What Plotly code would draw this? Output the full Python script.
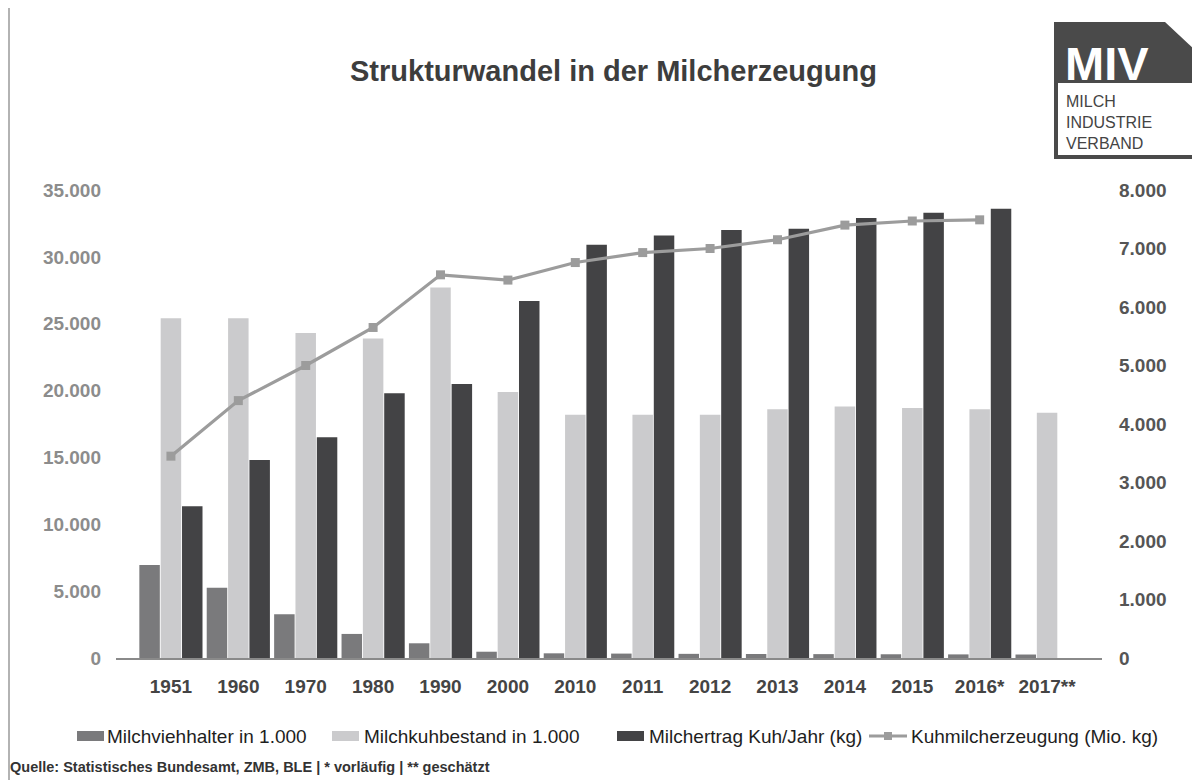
import plotly.graph_objects as go

categories = ["1951", "1960", "1970", "1980", "1990", "2000", "2010", "2011",
              "2012", "2013", "2014", "2015", "2016*", "2017**"]
milchviehhalter = [6950, 5250, 3270, 1800, 1100, 470, 350, 330, 310, 300, 290, 280, 270, 260]
milchkuhbestand = [25400, 25400, 24300, 23900, 27700, 19900, 18200, 18200, 18200,
                   18600, 18800, 18700, 18600, 18350]
milchertrag = [11350, 14800, 16500, 19800, 20500, 26700, 30900, 31600, 32000,
               32100, 32900, 33300, 33600, None]
kuhmilch = [3450, 4400, 5000, 5650, 6550, 6460, 6760, 6930, 7000, 7150, 7400,
            7470, 7490, None]

left_ticks = [0, 5000, 10000, 15000, 20000, 25000, 30000, 35000]
left_labels = ["0", "5.000", "10.000", "15.000", "20.000", "25.000", "30.000", "35.000"]
right_ticks = [0, 1000, 2000, 3000, 4000, 5000, 6000, 7000, 8000]
right_labels = ["0", "1.000", "2.000", "3.000", "4.000", "5.000", "6.000", "7.000", "8.000"]

names = ["Milchviehhalter in 1.000", "Milchkuhbestand in 1.000",
         "Milchertrag Kuh/Jahr (kg)", "Kuhmilcherzeugung (Mio. kg)"]

C1, C2, C3, CL = "#7a7a7c", "#cbcbcd", "#434345", "#9c9c9c"
FONT = "Liberation Sans, Arial, sans-serif"

# page offset caused by the default body margin of the html page
OFF = 8
W, H = 1200 - OFF, 780 - OFF
# plot area in page pixels
L, R, T, B = 116, 1102, 190, 658


def px(x):
    return (x - L) / (R - L)


def py(y):
    return (B - y) / (B - T)


fig = go.Figure()
fig.add_trace(go.Bar(x=categories, y=milchviehhalter, name=names[0], marker_color=C1,
                     marker_line_width=0, showlegend=False))
fig.add_trace(go.Bar(x=categories, y=milchkuhbestand, name=names[1], marker_color=C2,
                     marker_line_width=0, showlegend=False))
fig.add_trace(go.Bar(x=categories, y=milchertrag, name=names[2], marker_color=C3,
                     marker_line_width=0, showlegend=False))
fig.add_trace(go.Scatter(x=categories, y=kuhmilch, name=names[3], yaxis="y2",
                         mode="lines+markers", line=dict(color=CL, width=3.2),
                         marker=dict(symbol="square", size=9, color=CL),
                         showlegend=False))

shapes = []
annotations = []

# Title
annotations.append(dict(text="<b>Strukturwandel in der Milcherzeugung</b>", x=px(613), y=py(71),
                        xref="paper", yref="paper", showarrow=False, xanchor="center",
                        yanchor="middle", font=dict(family=FONT, size=29, color="#3d3d3d")))

# Legend (manual)
leg_y = 736
items = [(77, 105, C1, names[0]), (332, 362, C2, names[1]),
         (617, 647, C3, names[2])]
for x0, tx, col, nm in items:
    shapes.append(dict(type="rect", xref="paper", yref="paper", x0=px(x0), x1=px(x0 + 27),
                       y0=py(leg_y + 5), y1=py(leg_y - 5), fillcolor=col, line_width=0))
    annotations.append(dict(text=nm, x=px(tx), y=py(leg_y), xref="paper", yref="paper",
                            showarrow=False, xanchor="left", yanchor="middle",
                            font=dict(family=FONT, size=19, color="#1e1e1e")))
shapes.append(dict(type="line", xref="paper", yref="paper", x0=px(869), x1=px(907),
                   y0=py(leg_y), y1=py(leg_y), line=dict(color=CL, width=3)))
shapes.append(dict(type="rect", xref="paper", yref="paper", x0=px(884), x1=px(892),
                   y0=py(leg_y + 4), y1=py(leg_y - 4), fillcolor=CL, line_width=0))
annotations.append(dict(text=names[3], x=px(909), y=py(leg_y), xref="paper", yref="paper",
                        showarrow=False, xanchor="left", yanchor="middle",
                        font=dict(family=FONT, size=19, color="#1e1e1e")))

# Source
annotations.append(dict(text="<b>Quelle: Statistisches Bundesamt, ZMB, BLE | * vorläufig | ** geschätzt</b>",
                        x=px(8), y=py(767), xref="paper", yref="paper", showarrow=False,
                        xanchor="left", yanchor="middle",
                        font=dict(family=FONT, size=14.5, color="#333333")))

# Frame line on the left
shapes.append(dict(type="line", xref="paper", yref="paper", x0=px(9), x1=px(9),
                   y0=py(8), y1=py(780), line=dict(color="#9a9a9a", width=1.5)))

# Logo
path = "M {} {} L {} {} L {} {} L {} {} L {} {} Z".format(
    px(1054), py(22), px(1165), py(22), px(1196), py(51), px(1196), py(159), px(1054), py(159))
shapes.append(dict(type="path", xref="paper", yref="paper", path=path,
                   fillcolor="#4a4a4a", line_width=0))
shapes.append(dict(type="rect", xref="paper", yref="paper", x0=px(1058), x1=px(1192),
                   y0=py(155), y1=py(83), fillcolor="white", line_width=0))
annotations.append(dict(text="<b>MIV</b>", x=px(1063), y=py(63), xref="paper", yref="paper",
                        showarrow=False, xanchor="left", yanchor="middle",
                        font=dict(family=FONT, size=47, color="white")))
annotations.append(dict(text="MILCH<br>INDUSTRIE<br>VERBAND", x=px(1064), y=py(122),
                        xref="paper", yref="paper", showarrow=False, xanchor="left",
                        yanchor="middle", align="left",
                        font=dict(family=FONT, size=16, color="#444444")))

fig.update_layout(
    width=W, height=H,
    margin=dict(l=L - OFF, r=W - (R - OFF), t=T - OFF, b=H - (B - OFF), pad=0),
    paper_bgcolor="white", plot_bgcolor="white",
    barmode="group", bargap=0.05, bargroupgap=0.04,
    font=dict(family=FONT),
    xaxis=dict(type="category", showgrid=False, showline=True, linecolor="#8a8a8a",
               linewidth=2, ticks="", ticklabelstandoff=10,
               tickfont=dict(family=FONT, size=19, color="#444444", weight="bold")),
    yaxis=dict(range=[0, 35000], tickvals=left_ticks, ticktext=left_labels,
               showgrid=False, zeroline=False, showline=False, ticks="",
               ticklabelstandoff=14,
               tickfont=dict(family=FONT, size=19, color="#8c8c8c", weight="bold")),
    yaxis2=dict(range=[0, 8000], tickvals=right_ticks, ticktext=right_labels,
                overlaying="y", side="right", showgrid=False, zeroline=False,
                showline=False, ticks="", ticklabelstandoff=16,
                tickfont=dict(family=FONT, size=19, color="#555555", weight="bold")),
    shapes=shapes, annotations=annotations,
)

fig.write_html("out.html")
